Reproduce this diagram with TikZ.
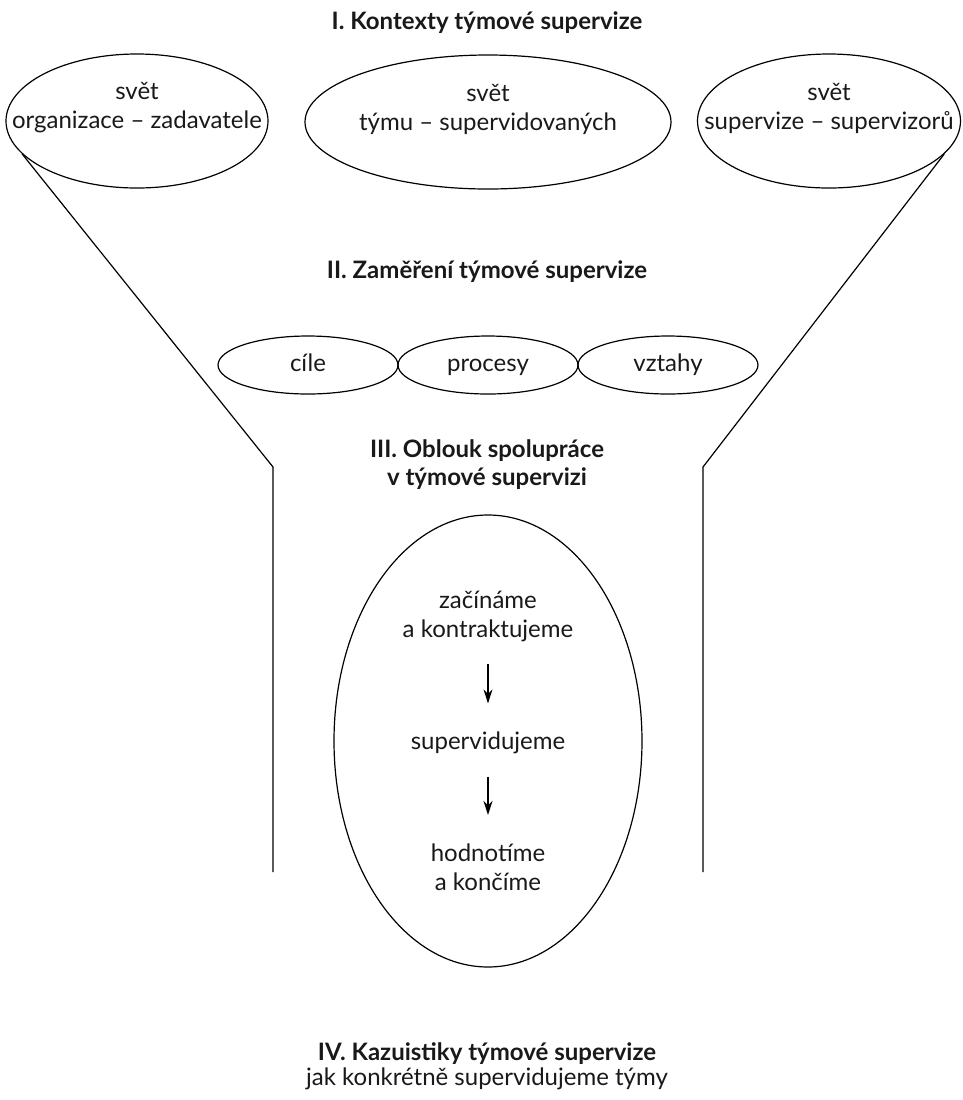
\documentclass[tikz,border=0pt]{standalone}
\usepackage{fontspec}
\setmainfont{Lato}
\usetikzlibrary{shapes.geometric,arrows.meta}
\tikzset{world/.style={draw,ellipse,inner sep=0,minimum height=67pt},
  focus/.style={draw,ellipse,inner sep=0,minimum width=90pt,minimum height=29pt,text height=8.6pt,text depth=2.6pt},
  arcbox/.style={draw,ellipse,inner sep=0,minimum width=154pt,minimum height=226pt},
  heading/.style={font=\fontsize{12}{14}\selectfont\bfseries,align=center},
  phase/.style={align=center,inner sep=0},
  flow/.style={-{Stealth[length=7pt,width=4.5pt]},shorten <=11pt,shorten >=14pt}}

\begin{document}
\begin{tikzpicture}[x=0.5pt,y=-0.5pt,line width=0.6pt,font=\fontsize{12}{14.5}\selectfont,every node/.style={text=black!90}]

\useasboundingbox (0,0) rectangle (963,1100);

% Headings
\node[heading] (head-contexts) at (487,23) {I. Kontexty týmové supervize};
\node[heading] (head-focus) at (487,272) {II. Zaměření týmové supervize};
\node[heading] (head-arc) at (487,465) {III. Oblouk spolupráce\\v týmové supervizi};
\node[heading] (head-cases) at (487,1054) {IV. Kazuistiky týmové supervize};
\node (sub-cases) at (487,1079) {jak konkrétně supervidujeme týmy};

% The three worlds
\node[world,minimum width=131pt,label={[align=center,yshift=6.5pt]center:{svět\\organizace -- zadavatele}}] (world-org) at (137,121) {};
\node[world,minimum width=183pt,label={[align=center,yshift=6.5pt]center:{svět\\týmu -- supervidovaných}}] (world-team) at (488,122) {};
\node[world,minimum width=131.5pt,label={[align=center,yshift=6.5pt]center:{svět\\supervize -- supervizorů}}] (world-sup) at (829,121) {};

% The funnel
\coordinate (funnel-l) at (273,467);
\coordinate (funnel-l-end) at (273,872);
\coordinate (funnel-r) at (703,467);
\coordinate (funnel-r-end) at (703,872);
\draw (world-org.196) -- (funnel-l) -- (funnel-l-end);
\draw (world-sup.344) -- (funnel-r) -- (funnel-r-end);

% Focus
\node[focus] (goals) at (308,365) {cíle};
\node[focus] (processes) at (488,365) {procesy};
\node[focus] (relations) at (668,365) {vztahy};

% The arc of cooperation
\node[arcbox] (arc) at (488,741) {};
\node[phase] (start) at (488,616) {začínáme\\a kontraktujeme};
\node[phase] (supervise) at (488,743) {supervidujeme};
\node[phase] (finish) at (488,867) {hodnotíme\\a končíme};
\draw[flow] (start) -- (supervise);
\draw[flow] (supervise) -- (finish);

\end{tikzpicture}
\end{document}
